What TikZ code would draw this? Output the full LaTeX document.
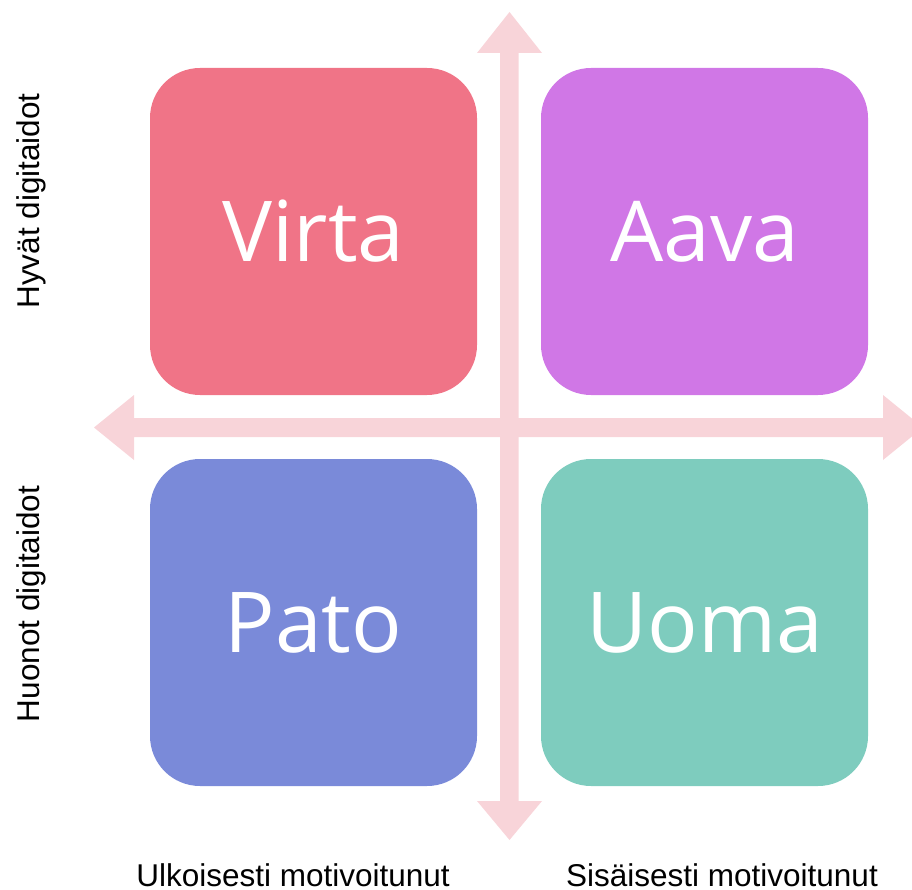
\documentclass[tikz,border=0pt]{standalone}
\usepackage{fontspec}
\setmainfont{Liberation Sans}
\newfontfamily\bigfont{Open Sans}
\definecolor{cVirta}{HTML}{F07487}
\definecolor{cAava}{HTML}{D077E6}
\definecolor{cPato}{HTML}{7A8AD9}
\definecolor{cUoma}{HTML}{7ECCBE}
\definecolor{cArrow}{HTML}{F8D4D9}
\begin{document}
\begin{tikzpicture}[x=1pt,y=-1pt,
  quad/.style={rounded corners=50pt, minimum width=327pt, minimum height=327pt, inner sep=0pt,
    text=white, font=\bigfont\fontsize{84}{90}\selectfont},
  axislabel/.style={font=\fontsize{31.5}{34}\selectfont, text=black, inner sep=0pt, text depth=0pt}]
\useasboundingbox (0,0) rectangle (912,890);
\clip (0,0) rectangle (912,890);
% axes
\fill[cArrow] (500,53) -- (477,53) -- (509.5,12) -- (542,53) -- (518.5,53) -- (518.5,801) -- (542,801) -- (509.5,840) -- (477,801) -- (500,801) -- cycle;
\fill[cArrow] (134,418) -- (134,395) -- (94,427.5) -- (134,460) -- (134,437) -- (883,437) -- (883,460) -- (923,427.5) -- (883,395) -- (883,418) -- cycle;
% quadrants
\node[quad, fill=cVirta] (virta) at (313.5,231.5) {Virta};
\node[quad, fill=cAava] (aava) at (704.5,231.5) {Aava};
\node[quad, fill=cPato] (pato) at (313.5,622.5) {Pato};
\node[quad, fill=cUoma] (uoma) at (704.5,622.5) {Uoma};
% labels
\node[axislabel, anchor=base] (ulk) at (293,886) {Ulkoisesti motivoitunut};
\node[axislabel, anchor=base] (sis) at (722,886) {Sisäisesti motivoitunut};
\node[axislabel, anchor=base, rotate=90] (hyv) at (39,201) {Hyvät digitaidot};
\node[axislabel, anchor=base, rotate=90] (huo) at (39,604) {Huonot digitaidot};
\end{tikzpicture}
\end{document}
